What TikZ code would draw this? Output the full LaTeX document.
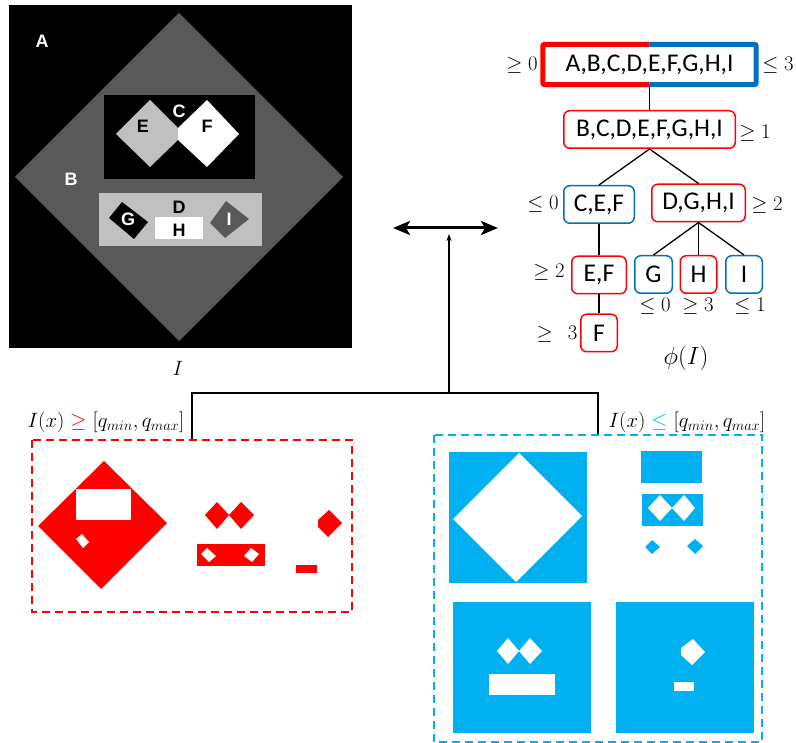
\documentclass[tikz,border=0pt]{standalone}
\usepackage{fontspec}
\newfontfamily\arialf{Liberation Sans}
\newfontfamily\calf{Carlito}
\usetikzlibrary{arrows.meta}
\definecolor{tred}{HTML}{FF0000}
\definecolor{tblue}{HTML}{0070C0}
\definecolor{cyanb}{HTML}{00B0F0}
\definecolor{bgray}{HTML}{595959}
\definecolor{lgray}{HTML}{C0C0C0}
\begin{document}
\begin{tikzpicture}[x=1pt,y=-1pt,
  imglab/.style={font=\arialf\bfseries\fontsize{18}{18}\selectfont, inner sep=0},
  tbox/.style={draw, rounded corners=6pt, line width=1.5pt, font=\calf\fontsize{25.5}{26}\selectfont, inner sep=0, minimum height=37.5},
  rbox/.style={tbox, draw=tred},
  bbox/.style={tbox, draw=tblue},
  tlab/.style={font=\fontsize{20}{20}\selectfont, inner sep=0},
  edge/.style={line width=1.3pt},
  conn/.style={line width=1.5pt},
  qlab/.style={font=\fontsize{20}{20}\selectfont, inner sep=0},
  dbox/.style={line width=1.6pt, dash pattern=on 8pt off 5pt}
]
\useasboundingbox (0,0) rectangle (796,743);

% ---------- image I ----------
\fill[black] (9,5) rectangle (352,348);
\fill[bgray] (179,13) -- (343,177) -- (179,341) -- (15,177) -- cycle;
\fill[black] (104,95) rectangle (255,179);
\fill[lgray] (116,134) -- (150,100) -- (178,128) -- (178,140) -- (150,167) -- cycle;
\fill[white] (178,128) -- (207,100) -- (239,134) -- (207,167) -- (178,140) -- cycle;
\fill[lgray] (99,193) rectangle (262,246);
\fill[black] (122,202) -- (148,222) -- (134,239) -- (109,218) -- cycle;
\fill[bgray] (226,201) -- (249,219) -- (225,238) -- (210,223) -- cycle;
\fill[white] (155,217) rectangle (203,239);
\node[imglab, white] (la) at (42,41) {A};
\node[imglab, white] (lb) at (71,179) {B};
\node[imglab, white] (lc) at (179,111) {C};
\node[imglab, black] (le) at (143,126) {E};
\node[imglab, black] (lf) at (207,126) {F};
\node[imglab, black] (ld) at (179,207) {D};
\node[imglab, black] (lh) at (179,230) {H};
\node[imglab, white] (lg) at (128,219) {G};
\node[imglab, white] (li) at (229,219) {I};
\node[font=\fontsize{22}{22}\selectfont, inner sep=0] (imgI) at (178,368) {$I$};

% ---------- tree ----------
\node[inner sep=0, minimum width=213, minimum height=40, font=\calf\fontsize{25.5}{26}\selectfont] (root) at (649.5,64.5) {A,B,C,D,E,F,G,H,I};
\draw[tred, line width=5pt, rounded corners=2pt] (root.north) -- (root.north west) -- (root.south west) -- (root.south);
\draw[tblue, line width=5pt, rounded corners=2pt] (root.north) -- (root.north east) -- (root.south east) -- (root.south);
\node[rbox, minimum width=171.5] (n2) at (649.5,129.5) {B,C,D,E,F,G,H,I};
\node[bbox, minimum width=70.5] (cef) at (599,204.5) {C,E,F};
\node[rbox, minimum width=93.5] (dghi) at (698.5,203) {D,G,H,I};
\node[rbox, minimum width=54.5] (ef) at (599,275) {E,F};
\node[rbox, minimum width=36.5] (f) at (599,333) {F};
\node[bbox, minimum width=37.5] (g) at (653.5,274.5) {G};
\node[rbox, minimum width=36.5] (h) at (698.5,274.5) {H};
\node[bbox, minimum width=36.5] (i) at (744,274.5) {I};

\draw[edge] (root.south) -- (n2.north);
\draw[edge] (n2.south) -- (cef.north);
\draw[edge] (n2.south) -- (dghi.north);
\draw[edge] (cef.south) -- (ef.north);
\draw[edge] (ef.south) -- (f.north);
\draw[edge] (dghi.south) -- (g.north);
\draw[edge] (dghi.south) -- (h.north);
\draw[edge] (dghi.south) -- (i.north);

\node[tlab] (t0) at (522,65) {$\geq 0$};
\node[tlab] (t1) at (778,65) {$\leq 3$};
\node[tlab] (t2) at (755,133) {$\geq 1$};
\node[tlab] (t3) at (543,204) {$\leq 0$};
\node[tlab] (t4) at (767,205) {$\geq 2$};
\node[tlab] (t5) at (549,272) {$\geq 2$};
\node[tlab] (t6) at (557,334) {$\geq\;\, 3$};
\node[tlab] (t7) at (655,306) {$\leq 0$};
\node[tlab] (t8) at (698,306) {$\geq 3$};
\node[tlab] (t9) at (750,306) {$\leq 1$};
\node[font=\fontsize{26}{26}\selectfont, inner sep=0] (phi) at (686,358) {$\phi(I)$};

% ---------- arrows and connectors ----------
\coordinate (dl) at (393,228);
\coordinate (dr) at (498,228);
\draw[line width=3pt, {Stealth[length=17pt,width=14pt,inset=4pt]}-{Stealth[length=17pt,width=14pt,inset=4pt]}] (dl) -- (dr);
\coordinate (junc) at (449,393);
\coordinate (atip) at (449,234);
\coordinate (redtop) at (192,440);
\coordinate (bluetop) at (598,435);
\draw[conn, -{Stealth[length=7pt,width=5pt]}] (junc) -- (atip);
\draw[conn] (redtop) |- (junc) -| (bluetop);

\node[qlab] (qr) at (106,422) {$I(x)$ \textcolor{tred}{$\geq$} $[q_{min}, q_{max}]$};
\node[qlab] (qb) at (687,422) {$I(x)$ \textcolor{cyanb}{$\leq$} $[q_{min}, q_{max}]$};

% ---------- red panel ----------
\draw[dbox, tred] (32,440) rectangle (352,612);
\fill[tred] (104,461) -- (167,523) -- (101,589) -- (38,526) -- cycle;
\fill[white] (76,489) rectangle (131,520);
\fill[white] (76,539) -- (82,534) -- (89,542) -- (83,548) -- cycle;
\fill[tred] (205,515) -- (217,502) -- (229,515) -- (217,529) -- cycle;
\fill[tred] (229,515) -- (241,502) -- (254,515) -- (241,529) -- cycle;
\fill[tred] (197,544) rectangle (265,566);
\fill[white] (201,554) -- (207,548) -- (216,556) -- (209,562) -- cycle;
\fill[white] (244,556) -- (251,548) -- (259,554) -- (252,562) -- cycle;
\fill[tred] (318,520) -- (329,510) -- (342,523) -- (328,537) -- (318,527) -- cycle;
\fill[tred] (296,565) rectangle (317,573);

% ---------- blue panel ----------
\draw[dbox, cyanb] (434,435) rectangle (762,742);
\fill[cyanb] (449,452) rectangle (587,583);
\fill[white] (519,453) -- (582,516) -- (516,582) -- (453,519) -- cycle;
\fill[cyanb] (641,451) rectangle (702,483);
\fill[cyanb] (642,494) rectangle (703,526);
\fill[white] (648,508) -- (660,495) -- (672,508) -- (660,521) -- cycle;
\fill[white] (672,508) -- (684,495) -- (695,508) -- (684,521) -- cycle;
\fill[cyanb] (645,547) -- (652,540) -- (660,547) -- (652,554) -- cycle;
\fill[cyanb] (687,546) -- (695,539) -- (703,546) -- (695,554) -- cycle;
\fill[cyanb] (453,602) rectangle (591,733);
\fill[white] (497,651) -- (508,638) -- (519,651) -- (508,664) -- cycle;
\fill[white] (519,651) -- (530,638) -- (542,651) -- (530,664) -- cycle;
\fill[white] (489,674) rectangle (555,695);
\fill[cyanb] (616,602) rectangle (754,733);
\fill[white] (681,648) -- (693,639) -- (705,652) -- (692,665) -- (681,655) -- cycle;
\fill[white] (674,682) rectangle (694,691);
\end{tikzpicture}
\end{document}
